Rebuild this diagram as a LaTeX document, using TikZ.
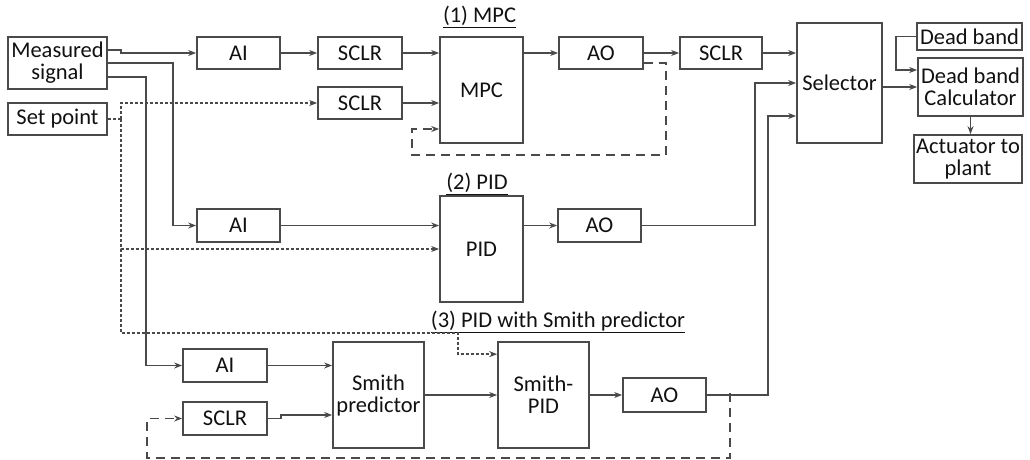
\documentclass[tikz,border=0pt]{standalone}
\usepackage{fontspec}
\setmainfont{Carlito}
\usetikzlibrary{arrows.meta,calc}
\definecolor{ln}{HTML}{4A4A4A}
\definecolor{tx}{HTML}{111111}
\begin{document}
\begin{tikzpicture}[x=1pt,y=-1pt,
  font=\fontsize{22.5}{26}\selectfont,
  box/.style={draw=ln, line width=1.7pt, inner sep=0pt, align=center, text=tx},
  lab/.style={inner sep=0pt, text=tx},
  conn/.style={draw=ln, line width=1.6pt, -{Stealth[length=8pt,width=6pt]}},
  plain/.style={draw=ln, line width=1.6pt},
  dotline/.style={conn, line width=1.4pt, dash pattern=on 3pt off 2pt},
  dashline/.style={conn, line width=1.6pt, dash pattern=on 9pt off 6pt}]
\useasboundingbox (0,0) rectangle (1030,460);
% nodes
\node[box, minimum width=99, minimum height=52] (ms) at (57.5,63) {Measured\\[-4pt]signal};
\node[box, minimum width=99, minimum height=32] (sp) at (57.5,119) {Set point};
\node[box, minimum width=83, minimum height=32] (ai1) at (238.5,53) {AI};
\node[box, minimum width=84, minimum height=32] (sc1) at (360,53) {SCLR};
\node[box, minimum width=84, minimum height=32] (sc2) at (360,103) {SCLR};
\node[box, minimum width=83, minimum height=106] (mpc) at (481.5,90) {MPC};
\node[box, minimum width=84, minimum height=32] (ao1) at (601,53) {AO};
\node[box, minimum width=82, minimum height=32] (sc3) at (721,53) {SCLR};
\node[box, minimum width=85, minimum height=120] (sel) at (839.5,83) {Selector};
\node[box, minimum width=105, minimum height=27] (db) at (969.5,36.5) {Dead band};
\node[box, minimum width=105, minimum height=58] (dbc) at (970.5,87) {Dead band\\[-4pt]Calculator};
\node[box, minimum width=108, minimum height=48] (act) at (968,159) {Actuator to\\[-4pt]plant};
\node[box, minimum width=83, minimum height=33] (ai2) at (238.5,225.5) {AI};
\node[box, minimum width=83, minimum height=106] (pid) at (481.5,249) {PID};
\node[box, minimum width=83, minimum height=33] (ao2) at (599.5,225.5) {AO};
\node[box, minimum width=84, minimum height=33] (ai3) at (225,365.5) {AI};
\node[box, minimum width=84, minimum height=33] (sc4) at (225,418.5) {SCLR};
\node[box, minimum width=91, minimum height=106] (smp) at (378.5,395) {Smith\\[-4pt]predictor};
\node[box, minimum width=91, minimum height=106] (spid) at (543.5,395) {Smith-\\[-4pt]PID};
\node[box, minimum width=83, minimum height=34] (ao3) at (664.5,395) {AO};
\node[lab] (l1) at (479.5,17) {\underline{(1) MPC}};
\node[lab] (l2) at (477,184) {\underline{(2) PID}};
\node[lab] (l3) at (558,322) {\underline{(3) PID with Smith predictor}};
% measured signal lines
\draw[conn] ($(ms.east)+(0,-13)$) -- ++(13,0) |- (ai1.west);
\draw[conn] (ms.east) -| ($(ai2.west)+(-23,0)$) -- (ai2.west);
\draw[conn] ($(ms.east)+(0,14)$) -| ($(ai3.west)+(-36,0)$) -- (ai3.west);
% set point lines
\draw[plain, line width=1.4pt, dash pattern=on 3pt off 2pt] (sp.east) -- ++(13,0) coordinate (spx);
\draw[dotline] (spx) |- (sc2.west);
\draw[dotline] (spx) |- (pid.west);
\draw[dotline] (spx) |- ($(spid.north west)+(-39,-8)$) |- ($(spid.north west)+(0,13)$);
% MPC row
\draw[conn] (ai1.east) -- (sc1.west);
\draw[conn] (sc1.east) -- (mpc.west |- sc1.east);
\draw[conn] (sc2.east) -- (mpc.west |- sc2.east);
\draw[conn] (mpc.east |- ao1.west) -- (ao1.west);
\draw[conn] (ao1.east) -- (sc3.west);
\draw[conn] (sc3.east) -- (sel.west |- sc3.east);
\draw[dashline] ($(ao1.east)+(0,10)$) -- ++(22,0) |- ($(mpc.west)+(-27,65)$) |- ($(mpc.west)+(0,39)$);
% PID row
\draw[conn] (ai2.east) -- (pid.west |- ai2.east);
\draw[conn] (pid.east |- ao2.west) -- (ao2.west);
\draw[conn] (ao2.east) -| ($(sel.west)+(-41,0)$) -- (sel.west);
% Smith row
\draw[conn] (ai3.east) -- (smp.west |- ai3.east);
\draw[conn] (sc4.east) -- ++(13,0) |- ($(smp.west)+(0,20)$);
\draw[conn] (smp.east) -- (spid.west);
\draw[conn] (spid.east) -- (ao3.west);
\draw[conn] (ao3.east) -| ($(sel.west)+(-28,33)$) -- ($(sel.west)+(0,33)$);
\draw[dashline] ($(ao3.east)+(23,-2)$) -- ++(0,65) -| ($(sc4.west)+(-35,0)$) -- (sc4.west);
% output side
\draw[conn] (sel.east |- dbc.west) -- (dbc.west);
\draw[conn] (db.west) -| ($(dbc.west)+(-21,-17)$) -- ($(dbc.west)+(0,-17)$);
\draw[conn] (dbc.south) -- (dbc.south |- act.north);
\end{tikzpicture}
\end{document}
